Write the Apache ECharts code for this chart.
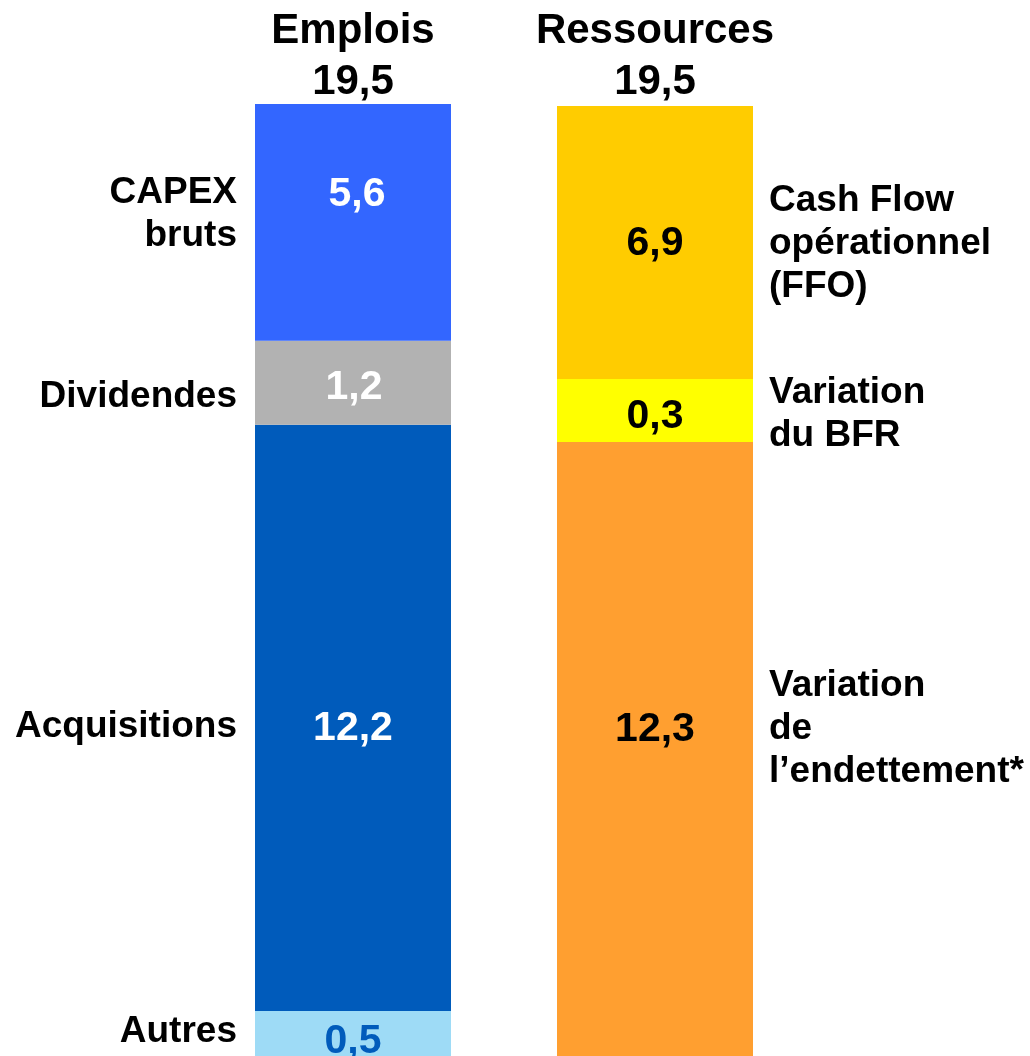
<!DOCTYPE html>
<html>
<head>
<meta charset="utf-8">
<script src="https://cdn.jsdelivr.net/npm/echarts@6/dist/echarts.min.js"></script>
<style>
html, body { margin: 0; padding: 0; overflow: hidden; background: #fff; }
#chart { width: 1030px; height: 1090px; }
</style>
</head>
<body>
<div id="chart"></div>
<script>
// colonnes et totaux affichés en tête
let columns = ['Emplois', 'Ressources'];
let totals = ['19,5', '19,5'];

// Emplois, du bas vers le haut
let emploisNames = ['Autres', 'Acquisitions', 'Dividendes', 'CAPEX\nbruts'];
let emploisLabels = ['0,5', '12,2', '1,2', '5,6'];     // valeurs écrites dans les barres
let emploisHeights = [1.23, 11.81, 1.69, 4.77];        // hauteurs des blocs

// Ressources, du bas vers le haut
let ressourcesNames = ['Variation\nde\nl\u2019endettement*', 'Variation\ndu BFR', 'Cash Flow\nopérationnel\n(FFO)'];
let ressourcesLabels = ['12,3', '0,3', '6,9'];
let ressourcesHeights = [12.69, 1.27, 5.50];

// styles (couleur du bloc, couleur du chiffre, décalages des textes)
let emploisStyles = [
    {color: '#9edbf6', text: '#005bbb', valOff: [0, 0], nameOff: [0, -10]},
    {color: '#005bbb', text: '#ffffff', valOff: [0, 11], nameOff: [0, 9]},
    {color: '#b2b2b2', text: '#ffffff', valOff: [1, 5], nameOff: [0, 14]},
    {color: '#3366ff', text: '#ffffff', valOff: [4, -28], nameOff: [0, -8]}
];
let ressourcesStyles = [
    {color: '#ff9f30', text: '#000000', valOff: [0, -27], nameOff: [0, -28]},
    {color: '#ffff00', text: '#000000', valOff: [0, 6], nameOff: [0, 4]},
    {color: '#ffcc00', text: '#000000', valOff: [0, 1], nameOff: [0, 1]}
];

let font = '"Liberation Sans", Arial, sans-serif';
let series = [];

function addColumn(idx, names, labels, heights, styles, side) {
    for (let i = 0; i < heights.length; i++) {
        let data = columns.map(function (c, j) { return j === idx ? heights[i] : '-'; });
        // bloc coloré + chiffre
        series.push({
            type: 'bar',
            stack: 'blocs',
            barWidth: 196,
            barGap: '-100%',
            silent: true,
            data: data,
            itemStyle: {color: styles[i].color},
            label: {
                show: true,
                position: 'inside',
                formatter: labels[i],
                color: styles[i].text,
                fontSize: 41,
                fontWeight: 'bold',
                fontFamily: font,
                offset: styles[i].valOff
            }
        });
        // bloc transparent, superposé, qui porte le libellé
        series.push({
            type: 'bar',
            stack: 'noms',
            barWidth: 196,
            barGap: '-100%',
            silent: true,
            data: data,
            itemStyle: {color: 'rgba(0,0,0,0)'},
            label: {
                show: true,
                position: side,
                distance: side === 'left' ? 18 : 16,
                align: side === 'left' ? 'right' : 'left',
                formatter: names[i],
                color: '#000',
                fontSize: 37,
                lineHeight: 43,
                fontWeight: 'bold',
                fontFamily: font,
                offset: styles[i].nameOff
            }
        });
    }
}

addColumn(0, emploisNames, emploisLabels, emploisHeights, emploisStyles, 'left');
addColumn(1, ressourcesNames, ressourcesLabels, ressourcesHeights, ressourcesStyles, 'right');

let myChart = echarts.init(document.getElementById('chart'));
let option = {
    animation: false,
    grid: {left: 202, width: 604, top: 104, bottom: 18},
    xAxis: {
        type: 'category',
        position: 'top',
        data: columns,
        axisLine: {show: false},
        axisTick: {show: false},
        axisLabel: {
            interval: 0,
            margin: -4,
            formatter: function (v, i) {
                return '{t|' + v + '}\n{t|' + totals[i] + '}';
            },
            rich: {
                t: {fontSize: 42, fontWeight: 'bold', lineHeight: 51, color: '#000', fontFamily: font}
            }
        }
    },
    yAxis: {
        type: 'value',
        min: 0,
        max: 19.5,
        show: false
    },
    series: series
};
myChart.setOption(option);
</script>
</body>
</html>
